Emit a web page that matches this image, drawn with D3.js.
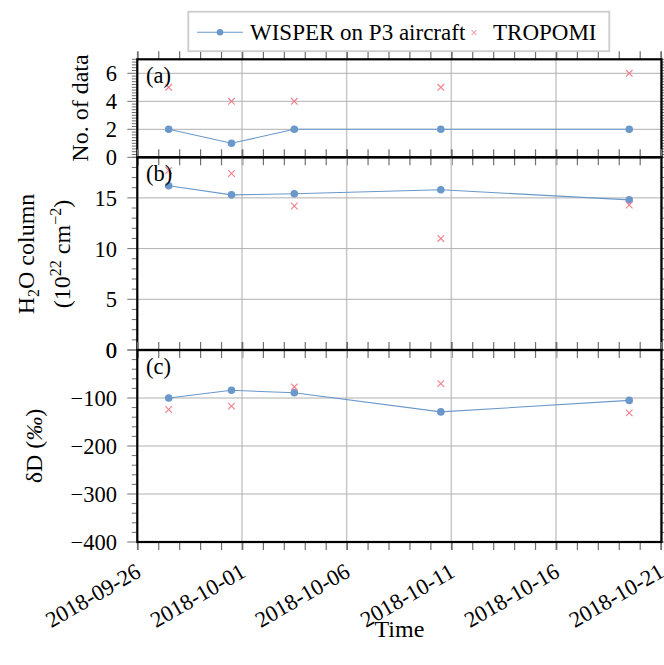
<!DOCTYPE html>
<html>
<head>
<script src="https://d3js.org/d3.v7.min.js" charset="utf-8"></script>
<style>
  body { margin: 0; background: #fff; }
</style>
</head>
<body>
<div id="chart"></div>
<script type="text/javascript">
  var w = 664, h = 665;

  // sampling times (UTC)
  var times = ["2018-09-27T12:00", "2018-09-30T12:00", "2018-10-03T12:00", "2018-10-10T12:00", "2018-10-19T12:00"];

  // (a) number of data
  var wisperCount = [2, 1, 2, 2, 2];
  var tropomiCount = [5, 4, 4, 5, 6];
  // (b) H2O column, 1e22 cm^-2
  var wisperH2O = [16.2, 15.3, 15.4, 15.8, 14.8];
  var tropomiH2O = [17.7, 17.4, 14.2, 11.0, 14.3];
  // (c) deltaD, permil
  var wisperDD = [-100, -84, -89, -129, -105];
  var tropomiDD = [-124, -117, -77, -70, -131];

  var dates = times.map(function(t) { return new Date(t + "Z"); });

  var left = 137.3, right = 661.5;
  var blue = "#6a98ca", red = "#f07f8c";
  var serif = "'Liberation Serif', 'Times New Roman', Times, 'DejaVu Serif', serif";

  var x = d3.scaleUtc()
    .domain([new Date(Date.UTC(2018, 8, 26)), new Date(Date.UTC(2018, 9, 21, 1))])
    .range([left, right]);

  var panels = [
    { top: 59.3, bottom: 157.3, domain: [0, 7], major: 2, minor: 0.2, tag: "(a)", wisper: wisperCount, tropomi: tropomiCount },
    { top: 157.3, bottom: 350, domain: [0, 19], major: 5, minor: 1, tag: "(b)", wisper: wisperH2O, tropomi: tropomiH2O },
    { top: 350, bottom: 542, domain: [-400, 0], major: 100, minor: 20, tag: "(c)", wisper: wisperDD, tropomi: tropomiDD }
  ];

  var svg = d3.select("#chart").append("svg")
    .attr("width", w).attr("height", h)
    .attr("font-family", serif);

  var fmt = function(v) { return v < 0 ? "\u2212" + Math.abs(v) : "" + v; };
  var majorX = x.ticks(d3.utcDay.every(5)).map(Number);

  panels.forEach(function(p, i) {
    var y = d3.scaleLinear().domain(p.domain).range([p.bottom, p.top]);
    var majors = d3.range(p.domain[0], p.domain[1] + 1e-9, p.major);
    var minors = d3.range(p.domain[0], p.domain[1] + 1e-9, p.minor).map(function(v) { return +v.toFixed(3); });
    var g = svg.append("g");

    // grid
    g.selectAll(".xgrid").data(x.ticks(d3.utcDay.every(5))).enter().append("line")
      .attr("x1", x).attr("x2", x).attr("y1", p.top).attr("y2", p.bottom)
      .attr("stroke", "#c8c8c8").attr("stroke-width", 1.5);
    g.selectAll(".ygrid").data(majors).enter().append("line")
      .attr("x1", left).attr("x2", right).attr("y1", y).attr("y2", y)
      .attr("stroke", "#b0b0b0").attr("stroke-width", 1);

    // x ticks, outward top and bottom
    var xt = x.ticks(d3.utcDay);
    var styleTicks = function(a) {
      a.select(".domain").remove();
      a.selectAll("line").attr("stroke", "#707070")
        .attr("stroke-width", function(d) { return majorX.indexOf(+d) >= 0 ? 1.8 : 1.2; });
    };
    g.append("g").attr("transform", "translate(0," + p.bottom + ")")
      .call(d3.axisBottom(x).tickValues(xt).tickSize(8).tickFormat(""))
      .call(styleTicks);
    g.append("g").attr("transform", "translate(0," + p.top + ")")
      .call(d3.axisTop(x).tickValues(xt).tickSize(8).tickFormat(""))
      .call(styleTicks);

    // y ticks left and right
    [[left, -1], [right, 1]].forEach(function(s) {
      g.selectAll(null).data(minors).enter().append("line")
        .attr("x1", s[0]).attr("x2", function(v) {
          var major = majors.some(function(m) { return Math.abs(m - v) < 1e-6; });
          return s[0] + s[1] * (major ? 10 : 5.5);
        })
        .attr("y1", y).attr("y2", y)
        .attr("stroke", "#707070").attr("stroke-width", 1);
    });

    g.selectAll(".ylab").data(majors).enter().append("text")
      .attr("x", 117).attr("y", y).attr("dy", "0.36em")
      .attr("text-anchor", "end").attr("font-size", 22.5)
      .text(fmt);

    // data
    var line = d3.line().x(function(d, k) { return x(dates[k]); }).y(function(d) { return y(d); });
    g.append("path").datum(p.wisper).attr("d", line)
      .attr("fill", "none").attr("stroke", blue).attr("stroke-width", 1.1);
    g.selectAll(".dot").data(p.wisper).enter().append("circle")
      .attr("cx", function(d, k) { return x(dates[k]); }).attr("cy", y).attr("r", 3.8)
      .attr("fill", blue);
    g.selectAll(".cross").data(p.tropomi).enter().append("path")
      .attr("transform", function(d, k) { return "translate(" + x(dates[k]) + "," + y(d) + ")"; })
      .attr("d", "M-3.3,-3.3L3.3,3.3M-3.3,3.3L3.3,-3.3")
      .attr("stroke", red).attr("stroke-width", 1.1);

    // frame
    g.append("rect").attr("x", left).attr("y", p.top)
      .attr("width", right - left).attr("height", p.bottom - p.top)
      .attr("fill", "none").attr("stroke", "#000").attr("stroke-width", 2.2);

    g.append("text").attr("x", 146).attr("y", p.top + 24)
      .attr("font-size", 22.5).text(p.tag);
  });

  // x tick labels under bottom panel
  svg.append("g").selectAll("text").data(x.ticks(d3.utcDay.every(5))).enter().append("text")
    .attr("transform", function(d) { return "translate(" + (x(d) + 1) + ",569) rotate(-30)"; })
    .attr("dy", "0.35em").attr("text-anchor", "end").attr("font-size", 22.5)
    .text(d3.utcFormat("%Y-%m-%d"));

  svg.append("text").attr("x", (left + right) / 2).attr("y", 637)
    .attr("text-anchor", "middle").attr("font-size", 24).text("Time");

  // y axis titles
  svg.append("text").attr("transform", "translate(88,108) rotate(-90)")
    .attr("text-anchor", "middle").attr("font-size", 24).text("No. of data");

  var t2 = svg.append("text").attr("transform", "translate(33.5,254) rotate(-90)")
    .attr("text-anchor", "middle").attr("font-size", 24);
  t2.append("tspan").text("H");
  t2.append("tspan").attr("dy", 5).attr("font-size", 16).text("2");
  t2.append("tspan").attr("dy", -5).text("O column");
  var t3 = svg.append("text").attr("transform", "translate(70,254) rotate(-90)")
    .attr("text-anchor", "middle").attr("font-size", 24);
  t3.append("tspan").text("(10");
  t3.append("tspan").attr("dy", -9).attr("font-size", 16).text("22");
  t3.append("tspan").attr("dy", 9).text(" cm");
  t3.append("tspan").attr("dy", -9).attr("font-size", 16).text("\u22122");
  t3.append("tspan").attr("dy", 9).text(")");

  var t4 = svg.append("text").attr("transform", "translate(42,446) rotate(-90)")
    .attr("text-anchor", "middle").attr("font-size", 24);
  t4.append("tspan").text("\u03b4D (");
  t4.append("tspan").attr("font-style", "italic").text("\u2030");
  t4.append("tspan").text(")");

  // legend
  var lg = svg.append("g");
  lg.append("rect").attr("x", 188.3).attr("y", 11.7).attr("width", 421).attr("height", 39.5)
    .attr("fill", "#fff").attr("stroke", "#cccccc").attr("stroke-width", 1.8);
  lg.append("line").attr("x1", 197).attr("x2", 243).attr("y1", 32.3).attr("y2", 32.3)
    .attr("stroke", blue).attr("stroke-width", 1.1);
  lg.append("circle").attr("cx", 220).attr("cy", 32.3).attr("r", 3.3).attr("fill", blue);
  lg.append("text").attr("x", 250).attr("y", 40).attr("font-size", 23).text("WISPER on P3 aircraft");
  lg.append("path").attr("transform", "translate(474,32.5)")
    .attr("d", "M-2.5,-2.5L2.5,2.5M-2.5,2.5L2.5,-2.5").attr("stroke", red).attr("stroke-width", 1);
  lg.append("text").attr("x", 493).attr("y", 40).attr("font-size", 23).text("TROPOMI");
</script>
</body>
</html>
